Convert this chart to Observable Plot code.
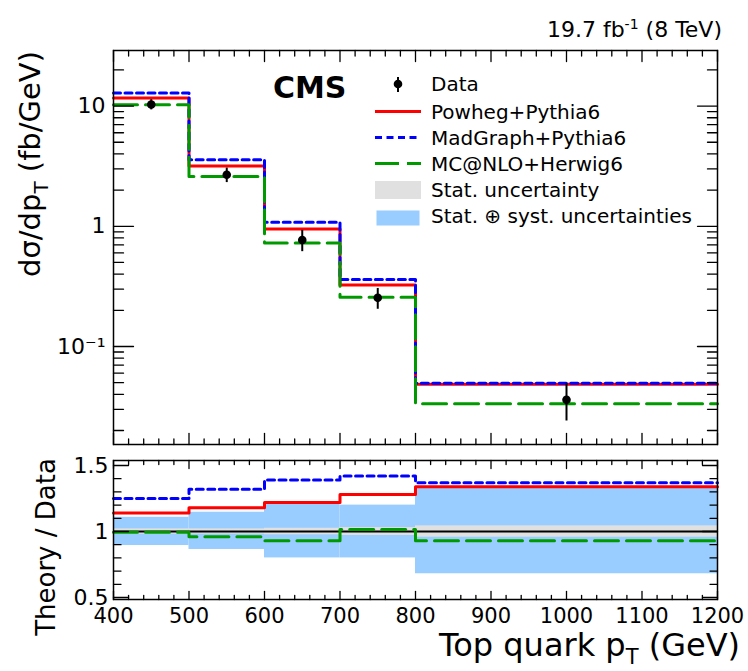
<!DOCTYPE html>
<html><head><meta charset="utf-8">
<script src="https://cdn.jsdelivr.net/npm/d3@7"></script>
<script src="https://cdn.jsdelivr.net/npm/@observablehq/plot@0.6"></script>
<style>
body{margin:0;background:#fff;}
#c{position:relative;width:748px;height:671px;font-family:"DejaVu Sans",sans-serif;}
#c > svg{position:absolute;left:0;}
</style></head><body><div id="c"></div>
<script>
// ---- data ----
const binEdges = [400, 500, 600, 700, 800, 1200];
const binCenters = [450, 550, 650, 750, 1000];
const dataValues = [10.3, 2.68, 0.77, 0.254, 0.036];
const dataErrLow = [1.0, 0.37, 0.155, 0.05, 0.012];
const dataErrHigh = [1.0, 0.37, 0.155, 0.05, 0.013];
const powheg = [11.7, 3.17, 0.95, 0.325, 0.0485];
const madgraph = [12.85, 3.57, 1.08, 0.36, 0.0495];
const mcatnlo = [10.25, 2.6, 0.725, 0.257, 0.0334];
const ratioPowheg = [1.14, 1.18, 1.22, 1.28, 1.34];
const ratioMadgraph = [1.25, 1.32, 1.39, 1.42, 1.37];
const ratioMcatnlo = [0.995, 0.96, 0.93, 1.015, 0.93];
const statLow = [0.98, 0.98, 0.975, 0.97, 0.957];
const statHigh = [1.02, 1.02, 1.025, 1.03, 1.043];
const totLow = [0.894, 0.864, 0.80, 0.80, 0.68];
const totHigh = [1.108, 1.146, 1.21, 1.20, 1.33];
const yTicks = [0.1, 1, 10];
const yTickLabels = ["10⁻¹", "1", "10"];
const ratioTicks = [0.5, 1, 1.5];
const ratioTickLabels = ["0.5", "1", "1.5"];
const xTicks = [400, 500, 600, 700, 800, 900, 1000, 1100, 1200];
const xTickLabels = ["400", "500", "600", "700", "800", "900", "1000", "1100", "1200"];
const seriesNames = ["Powheg+Pythia6", "MadGraph+Pythia6", "MC@NLO+Herwig6"];
const seriesColors = ["#ff0000", "#0000ff", "#009900"];
const seriesDash = [null, "7,4.5", "24,8"];
const legendLabels = ["Data", "Powheg+Pythia6", "MadGraph+Pythia6", "MC@NLO+Herwig6", "Stat. uncertainty", "Stat. ⊕ syst. uncertainties"];
const statColor = "#e0e0e0";
const totColor = "#99ccff";

// ---- helpers ----
const steps = vals => binEdges.map((e, i) => ({x: e, y: vals[Math.min(i, vals.length - 1)]}));
const tickShape = {draw(ctx, l) { ctx.moveTo(0, 0); ctx.lineTo(0, -l); }};
function ticks(values, dim, anchor, len, sw = 1.3) {
  const rot = {bottom: 0, top: 180, left: 90, right: -90}[anchor];
  return Plot.vector(values, {[dim]: d => d, frameAnchor: anchor, length: len, rotate: rot,
    anchor: "start", shape: tickShape, stroke: "black", strokeWidth: sw});
}
const xMajor = d3.range(400, 1201, 100);
const xMinor = d3.range(400, 1201, 20).filter(v => v % 100 !== 0);
const yMinor = [];
for (const k of [-2, -1, 0, 1]) for (let m = 2; m <= 9; m++) {
  const v = m * Math.pow(10, k); if (v > 0.0153 && v < 29) yMinor.push(v);
}
const rMinor = d3.range(5, 16).map(v => v / 10).filter(v => !ratioTicks.includes(v));

const font = {fontFamily: "DejaVu Sans, sans-serif", fontSize: "21px", background: "transparent", overflow: "visible"};
const rows = binCenters.map((x, i) => ({x, y: dataValues[i], lo: dataValues[i] - dataErrLow[i], hi: dataValues[i] + dataErrHigh[i]}));
const bins = binCenters.map((c, i) => ({x1: binEdges[i], x2: binEdges[i + 1], sl: statLow[i], sh: statHigh[i], tl: totLow[i], th: totHigh[i]}));
const topSeries = [powheg, madgraph, mcatnlo];
const ratioSeries = [ratioPowheg, ratioMadgraph, ratioMcatnlo];

// ---- top panel ----
const topPlot = Plot.plot({
  width: 748, height: 446, marginTop: 50, marginRight: 31, marginBottom: 2, marginLeft: 113,
  style: font,
  x: {domain: [400, 1200], axis: null},
  y: {type: "log", domain: [0.0153, 29], axis: null},
  marks: [
    ...topSeries.map((s, i) => Plot.line(steps(s), {x: "x", y: "y", curve: "step-after",
      stroke: seriesColors[i], strokeWidth: 3, strokeDasharray: seriesDash[i]})),
    Plot.ruleX(rows, {x: "x", y1: "lo", y2: "hi", stroke: "black", strokeWidth: 2}),
    Plot.dot(rows, {x: "x", y: "y", r: 4.3, fill: "black"}),
    Plot.frame({stroke: "black", strokeWidth: 1.5}),
    ticks(xMajor, "x", "bottom", 11), ticks(xMinor, "x", "bottom", 5.5),
    ticks(xMajor, "x", "top", 11), ticks(xMinor, "x", "top", 5.5),
    ticks(yTicks, "y", "left", 20), ticks(yMinor, "y", "left", 10),
    ticks(yTicks, "y", "right", 20), ticks(yMinor, "y", "right", 10),
    Plot.axisY({ticks: yTicks, tickFormat: d => yTickLabels[yTicks.indexOf(d)], tickSize: 0, tickPadding: 8, fontSize: 22, label: null})
  ]
});
topPlot.style.top = "0px";

// ---- ratio panel ----
const ratioPlot = Plot.plot({
  width: 748, height: 225, marginTop: 14, marginRight: 31, marginBottom: 72, marginLeft: 113,
  style: font,
  x: {domain: [400, 1200], axis: null},
  y: {domain: [0.485, 1.538], axis: null},
  marks: [
    Plot.rect(bins, {x1: "x1", x2: "x2", y1: "tl", y2: "th", fill: totColor}),
    Plot.rect(bins, {x1: "x1", x2: "x2", y1: "sl", y2: "sh", fill: statColor}),
    Plot.ruleY([1], {stroke: "black", strokeWidth: 1.8}),
    ...ratioSeries.map((s, i) => Plot.line(steps(s), {x: "x", y: "y", curve: "step-after",
      stroke: seriesColors[i], strokeWidth: 3, strokeDasharray: seriesDash[i]})),
    Plot.frame({stroke: "black", strokeWidth: 1.5}),
    ticks(xMajor, "x", "bottom", 8), ticks(xMinor, "x", "bottom", 4),
    ticks(xMajor, "x", "top", 8), ticks(xMinor, "x", "top", 4),
    ticks(ratioTicks, "y", "left", 15), ticks(rMinor, "y", "left", 7.5),
    ticks(ratioTicks, "y", "right", 15), ticks(rMinor, "y", "right", 7.5),
    Plot.axisY({ticks: ratioTicks, tickFormat: d => ratioTickLabels[ratioTicks.indexOf(d)], tickSize: 0, tickPadding: 5, fontSize: 22, label: null}),
    Plot.axisX({ticks: xTicks, tickFormat: d => xTickLabels[xTicks.indexOf(d)], tickSize: 0, tickPadding: 9, fontSize: 21, label: null})
  ]
});
ratioPlot.style.top = "446px";

// ---- overlay texts and legend ----
const ns = "http://www.w3.org/2000/svg";
const rowY = [84, 111.5, 137.5, 163.5, 189.5, 215.5];
let leg = "";
leg += `<line x1="398" x2="398" y1="77" y2="92" stroke="black" stroke-width="2"/><circle cx="398" cy="84" r="4.3" fill="black"/>`;
for (let i = 0; i < 3; i++) {
  leg += `<line x1="375" x2="421" y1="${rowY[i + 1]}" y2="${rowY[i + 1]}" stroke="${seriesColors[i]}" stroke-width="3" ${seriesDash[i] ? `stroke-dasharray="${seriesDash[i]}"` : ""}/>`;
}
leg += `<rect x="375" y="181" width="46" height="18" fill="${statColor}"/>`;
leg += `<rect x="376.5" y="210.5" width="43" height="15" fill="${totColor}"/>`;
legendLabels.forEach((t, i) => { leg += `<text x="431" y="${rowY[i]}" dy="0.36em" font-size="20">${t}</text>`; });

const ov = document.createElementNS(ns, "svg");
ov.setAttribute("width", 748); ov.setAttribute("height", 671);
ov.style.top = "0px"; ov.style.pointerEvents = "none";
ov.setAttribute("font-family", "DejaVu Sans, sans-serif");
ov.innerHTML = `
<text x="722" y="37" text-anchor="end" font-size="22">19.7 fb<tspan dy="-8" font-size="14">-1</tspan><tspan dy="8"> (8 TeV)</tspan></text>
<text x="273" y="98" font-size="30" font-weight="bold">CMS</text>
${leg}
<text transform="translate(40,51) rotate(-90)" text-anchor="end" font-size="29">dσ/dp<tspan dy="8" font-size="20">T</tspan><tspan dy="-8"> (fb/GeV)</tspan></text>
<text transform="translate(55,547) rotate(-90)" text-anchor="middle" font-size="26">Theory / Data</text>
<text x="740" y="656" text-anchor="end" font-size="32">Top quark p<tspan dy="8" font-size="21">T</tspan><tspan dy="-8"> (GeV)</tspan></text>
`;
const c = document.getElementById("c");
c.appendChild(topPlot); c.appendChild(ratioPlot); c.appendChild(ov);
</script></body></html>
